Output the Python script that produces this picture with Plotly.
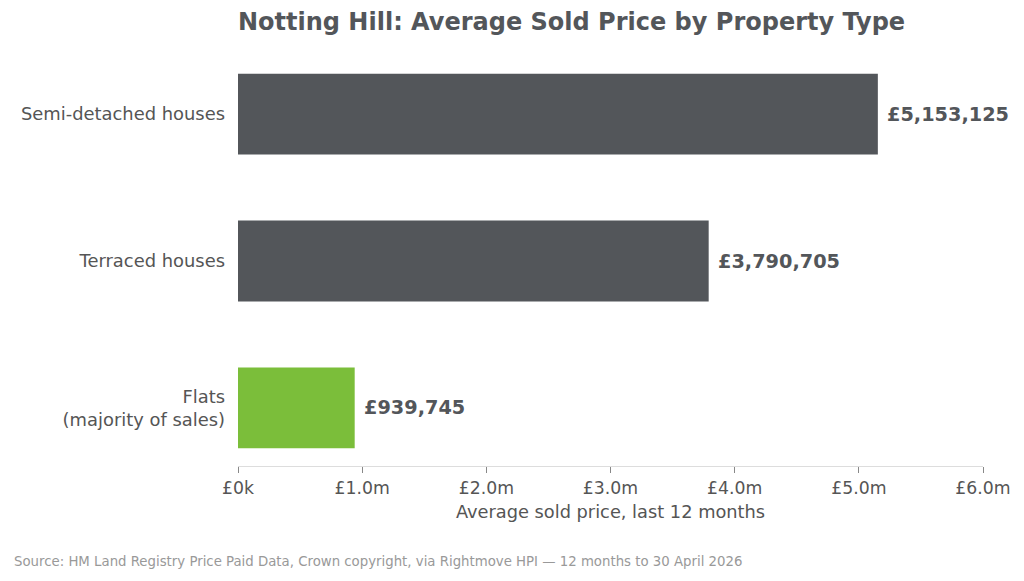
import plotly.graph_objects as go

categories = ["Semi-detached houses", "Terraced houses", "Flats<br>(majority of sales)"]
prices = [5153125, 3790705, 939745]
bar_colors = ["#53565a", "#53565a", "#7bbe3a"]
value_labels = ["£5,153,125", "£3,790,705", "£939,745"]
tick_vals = [0, 1e6, 2e6, 3e6, 4e6, 5e6, 6e6]
tick_text = ["£0k", "£1.0m", "£2.0m", "£3.0m", "£4.0m", "£5.0m", "£6.0m"]

FONT = "DejaVu Sans"

fig = go.Figure(go.Bar(
    x=prices,
    y=categories,
    orientation="h",
    marker=dict(color=bar_colors, line=dict(width=0)),
    width=0.55,
    cliponaxis=False,
    hoverinfo="skip",
))

annotations = [
    dict(x=p, y=c, xref="x", yref="y", text=f"<b>{t}</b>", showarrow=False,
         xanchor="left", yanchor="middle", xshift=7,
         font=dict(family=FONT, size=19.3, color="#53565a"))
    for p, c, t in zip(prices, categories, value_labels)
]
annotations.append(dict(
    text="Source: HM Land Registry Price Paid Data, Crown copyright, via Rightmove HPI — 12 months to 30 April 2026",
    xref="paper", yref="paper", x=-226 / 745, y=-(561 - 466) / 410,
    xanchor="left", yanchor="middle", showarrow=False,
    font=dict(family=FONT, size=13.3, color="#999999"),
))

fig.update_layout(
    width=1024, height=581,
    margin=dict(l=238, r=41, t=56, b=115),
    paper_bgcolor="white", plot_bgcolor="white",
    font=dict(family=FONT, color="#555555"),
    showlegend=False,
    title=dict(
        text="<b>Notting Hill: Average Sold Price by Property Type</b>",
        x=238 / 1024, xanchor="left", y=1 - 22 / 581, yanchor="middle",
        font=dict(family=FONT, size=24, color="#53565a"),
    ),
    xaxis=dict(
        range=[0, 6e6], tickvals=tick_vals, ticktext=tick_text,
        tickfont=dict(family=FONT, size=17.3, color="#555555"),
        ticks="outside", ticklen=6, tickcolor="#888888",
        showgrid=False, zeroline=False,
        showline=True, linecolor="#dddddd", linewidth=1,
        title=dict(text="Average sold price, last 12 months",
                   font=dict(family=FONT, size=17.8, color="#555555"), standoff=8),
    ),
    yaxis=dict(
        type="category", categoryorder="array", categoryarray=categories,
        range=[2.395, -0.395],
        tickfont=dict(family=FONT, size=17.9, color="#555555"),
        ticks="", ticklabelstandoff=12,
        showgrid=False, zeroline=False, showline=False,
    ),
    annotations=annotations,
)

fig.write_html("out.html")
